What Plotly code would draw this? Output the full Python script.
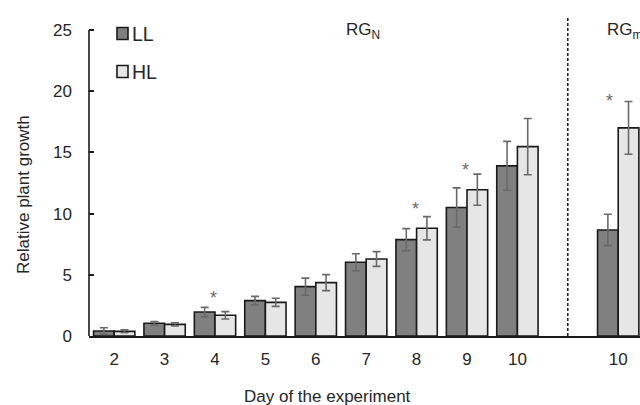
import plotly.graph_objects as go

# ---- data -------------------------------------------------------------
day_labels = ["2", "3", "4", "5", "6", "7", "8", "9", "10"]   # RG_N section
rgm_labels = ["10"]                                              # RG_m section

ll_values = [0.41, 1.04, 1.96, 2.89, 4.03, 6.02, 7.87, 10.5, 13.9, 8.66]
ll_errors = [0.27, 0.15, 0.38, 0.35, 0.70, 0.70, 0.90, 1.60, 2.00, 1.28]
hl_values = [0.38, 0.95, 1.69, 2.75, 4.36, 6.29, 8.80, 11.95, 15.47, 17.0]
hl_errors = [0.12, 0.12, 0.30, 0.33, 0.65, 0.60, 0.95, 1.27, 2.30, 2.15]

sig_index = [2, 6, 7, 9]          # groups marked with an asterisk
sig_height = [3.1, 10.4, 13.6, 19.2]

series_names = ["LL", "HL"]
colors = ["#808080", "#e6e6e6"]

# ---- positions (categories with one empty slot between sections) -----
x_pos = list(range(len(day_labels))) + [len(day_labels) + 1 + i for i in range(len(rgm_labels))]
tick_text = day_labels + rgm_labels
divider = len(day_labels)

W, H = 640, 405
ML, MR, MT, MB = 89, 0, 16, 69
PW, PH = W - ML - MR, H - MT - MB
Y_TOP = 26.14


def px(xp):
    return (xp - ML) / PW


def py(yp):
    return (H - MB - yp) / PH


fig = go.Figure()
for name, vals, errs, col in zip(series_names, [ll_values, hl_values], [ll_errors, hl_errors], colors):
    fig.add_trace(go.Bar(
        x=x_pos, y=vals, name=name,
        marker=dict(color=col, line=dict(color="#1a1a1a", width=1.6)),
        error_y=dict(type="data", array=errs, visible=True, color="#6a6a6a", thickness=1.6, width=4),
        showlegend=False, hoverinfo="skip",
    ))

font = "Arial, 'Liberation Sans', sans-serif"
txt = "#262626"

annotations = []
# asterisks
for i, h in zip(sig_index, sig_height):
    off = -0.18 if x_pos[i] > divider else -0.03
    annotations.append(dict(x=x_pos[i] + off, y=h, xref="x", yref="y", text="*", showarrow=False,
                            font=dict(family=font, size=18, color="#6a6a6a")))
# section labels
annotations.append(dict(x=px(344), y=py(31), xref="paper", yref="paper", xanchor="left", yanchor="middle",
                        text="RG<sub>N</sub>", showarrow=False, font=dict(family=font, size=17, color=txt)))
annotations.append(dict(x=px(605), y=py(31), xref="paper", yref="paper", xanchor="left", yanchor="middle",
                        text="RG<sub>max</sub>", showarrow=False, font=dict(family=font, size=17, color=txt)))
# axis titles
annotations.append(dict(x=px(327), y=py(396), xref="paper", yref="paper", xanchor="center", yanchor="middle",
                        text="Day of the experiment", showarrow=False, font=dict(family=font, size=17, color=txt)))
annotations.append(dict(x=px(23), y=py(195), xref="paper", yref="paper", xanchor="center", yanchor="middle",
                        text="Relative plant growth", textangle=-90, showarrow=False,
                        font=dict(family=font, size=17, color=txt)))
# manual legend
shapes = []
for k, (name, col) in enumerate(zip(series_names, colors)):
    cy = 33.5 + 38 * k
    shapes.append(dict(type="rect", xref="paper", yref="paper", x0=px(117), x1=px(128), y0=py(cy + 6), y1=py(cy - 6),
                       fillcolor=col, line=dict(color="#1a1a1a", width=1.6)))
    annotations.append(dict(x=px(130), y=py(cy), xref="paper", yref="paper", xanchor="left", yanchor="middle",
                            text=name, showarrow=False, font=dict(family=font, size=19.5, color=txt)))

# y axis line (only up to 25)
shapes.append(dict(type="line", xref="paper", yref="y", x0=0, x1=0, y0=0, y1=25,
                   line=dict(color="#1a1a1a", width=1.6)))
# dashed divider
shapes.append(dict(type="line", xref="x", yref="y", x0=divider, x1=divider, y0=0, y1=Y_TOP,
                   line=dict(color="#1a1a1a", width=1.5, dash="3px,2px")))

fig.update_layout(
    width=W, height=H,
    margin=dict(l=ML, r=MR, t=MT, b=MB, autoexpand=False),
    paper_bgcolor="white", plot_bgcolor="white",
    barmode="group", bargap=0.18, bargroupgap=0,
    font=dict(family=font, color=txt),
    annotations=annotations, shapes=shapes,
    xaxis=dict(range=[-0.5, -0.5 + PW / 50.4], tickvals=x_pos, ticktext=tick_text,
               showline=True, linecolor="#1a1a1a", linewidth=2, ticks="", showgrid=False, zeroline=False,
               tickfont=dict(size=17, color=txt), ticklabelstandoff=7, automargin=False),
    yaxis=dict(range=[0, Y_TOP], tickvals=[0, 5, 10, 15, 20, 25], showline=False, ticks="inside",
               ticklen=5, tickwidth=1.6, tickcolor="#1a1a1a", showgrid=False, zeroline=False,
               tickfont=dict(size=17, color=txt), ticklabelstandoff=16, automargin=False),
)

fig.write_html("out.html", config={"displayModeBar": False},
               post_script="document.body.style.margin='0';document.body.style.overflow='hidden';")
